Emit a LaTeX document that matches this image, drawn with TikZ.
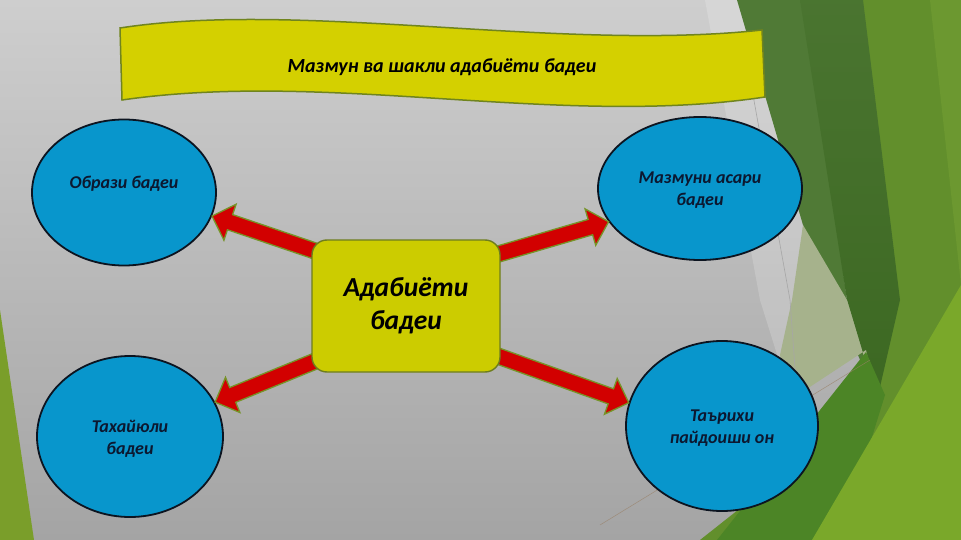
\documentclass[tikz,border=0pt]{standalone}
\usepackage{fontspec}
\setmainfont{Carlito}
\usetikzlibrary{calc,shapes.geometric}
\definecolor{ellblue}{RGB}{8,150,204}
\definecolor{ellborder}{RGB}{12,20,32}
\definecolor{txtnavy}{RGB}{12,24,48}
\definecolor{bannerfill}{RGB}{212,208,0}
\definecolor{bannerline}{RGB}{112,132,30}
\definecolor{boxfill}{RGB}{204,204,0}
\definecolor{boxline}{RGB}{110,125,30}
\definecolor{arrowred}{RGB}{210,0,0}
\definecolor{arrowline}{RGB}{118,148,40}
\definecolor{gmid}{RGB}{80,122,54}
\definecolor{gdark}{RGB}{60,104,34}
\definecolor{golive}{RGB}{98,143,44}
\definecolor{golivelight}{RGB}{108,152,48}
\definecolor{gmed}{RGB}{76,133,38}
\definecolor{glime}{RGB}{122,168,42}
\definecolor{gpale}{RGB}{166,178,140}
\definecolor{gleft}{RGB}{122,158,42}
\definecolor{bgtop}{RGB}{206,206,206}
\definecolor{bgbot}{RGB}{164,164,164}
\newcommand{\blockarrow}[2]{%
  \coordinate (ba-c) at ($(#2)!19pt!(#1)$);
  \filldraw[barrowstyle] ($(#1)!8pt!90:(#2)$) -- ($(ba-c)!8pt!90:(#2)$)
    -- ($(ba-c)!19pt!90:(#2)$) -- (#2) -- ($(ba-c)!19pt!-90:(#2)$)
    -- ($(ba-c)!8pt!-90:(#2)$) -- ($(#1)!8pt!-90:(#2)$) -- cycle;
}
\begin{document}
\begin{tikzpicture}[x=1pt,y=-1pt,
  ell/.style={ellipse, draw=ellborder, line width=1.8pt, fill=ellblue, inner sep=0pt},
  elltext/.style={font=\fontsize{18}{22}\selectfont\bfseries\itshape, text=txtnavy, align=center},
  barrowstyle/.style={fill=arrowred, draw=arrowline, line width=1.3pt, line join=miter},
  centerbox/.style={draw=boxline, line width=1.4pt, fill=boxfill, rounded corners=15pt,
    minimum width=188pt, minimum height=132pt, inner sep=0pt, align=center,
    font=\fontsize{27.5}{33}\selectfont\bfseries\itshape, text=black},
  titletext/.style={font=\fontsize{20}{24}\selectfont\bfseries\itshape, text=black},
]
\useasboundingbox (0,0) rectangle (961,540);
% background
\shade[top color=bgtop, bottom color=bgbot] (0,0) rectangle (961,540);
\fill[white, opacity=0.18] (705,0) -- (737,0) -- (803,225) -- (785,380) -- (760,300) -- cycle;
% left green triangle
\fill[gleft] (0,310) -- (34,540) -- (0,540) -- cycle;
% right green facets
\fill[golive] (855,0) -- (961,0) -- (961,540) -- (700,540) -- (877,400) -- cycle;
\fill[golivelight] (930,0) -- (961,0) -- (961,285) -- cycle;
\fill[gmid] (737,0) -- (805,0) -- (847,300) -- (877,400) -- (803,225) -- cycle;
\shade[top color=gmid!70!gdark, bottom color=gdark] (800,0) -- (863,0) -- (900,300) -- (877,400) -- (847,300) -- cycle;
\fill[gpale] (803,225) -- (847,300) -- (877,400) -- (866,350) -- (790,400) -- (780,355) -- (792,300) -- cycle;
\fill[gmed] (866,352) -- (717,540) -- (840,540) -- (885,395) -- cycle;
\fill[glime] (961,285) -- (961,540) -- (812,540) -- cycle;
\draw[gray!70, line width=0.6pt] (753,95) -- (790,300) -- (797,395);
\draw[gray!60!brown, line width=0.5pt, opacity=0.7] (600,525) -- (870,360);
% banner
\filldraw[fill=bannerfill, draw=bannerline, line width=1.5pt]
  (120,28) .. controls (300,0) and (560,52) .. (762,30)
  -- (765,97) .. controls (560,128) and (330,70) .. (122,100) -- cycle;
\node[titletext] (title) at (442,67) {Мазмун ва шакли адабиёти бадеи};
% ellipses
\node[ell, minimum width=184pt, minimum height=146pt,
  label={[elltext, yshift=9pt]center:Образи бадеи}] (tl) at (124,192.5) {};
\node[ell, minimum width=204pt, minimum height=143pt,
  label={[elltext, yshift=-2pt]center:Мазмуни асари\\бадеи}] (tr) at (700,188.5) {};
\node[ell, minimum width=186pt, minimum height=161pt,
  label={[elltext, yshift=-2pt]center:Тахайюли\\бадеи}] (bl) at (130,436.5) {};
\node[ell, minimum width=192pt, minimum height=170pt,
  label={[elltext, yshift=-2pt]center:Таърихи\\пайдоиши он}] (br) at (722,426) {};
% arrow tails (inside the central box)
\coordinate (aul) at (318,252);
\coordinate (aur) at (495,255);
\coordinate (all) at (318,360);
\coordinate (alr) at (495,355);
\blockarrow{aul}{tl.-15}
\blockarrow{aur}{tr.200}
\blockarrow{all}{bl.22}
\blockarrow{alr}{br.166}
% central box
\node[centerbox] (ctr) at (406,306) {Адабиёти\\бадеи};
\end{tikzpicture}
\end{document}
